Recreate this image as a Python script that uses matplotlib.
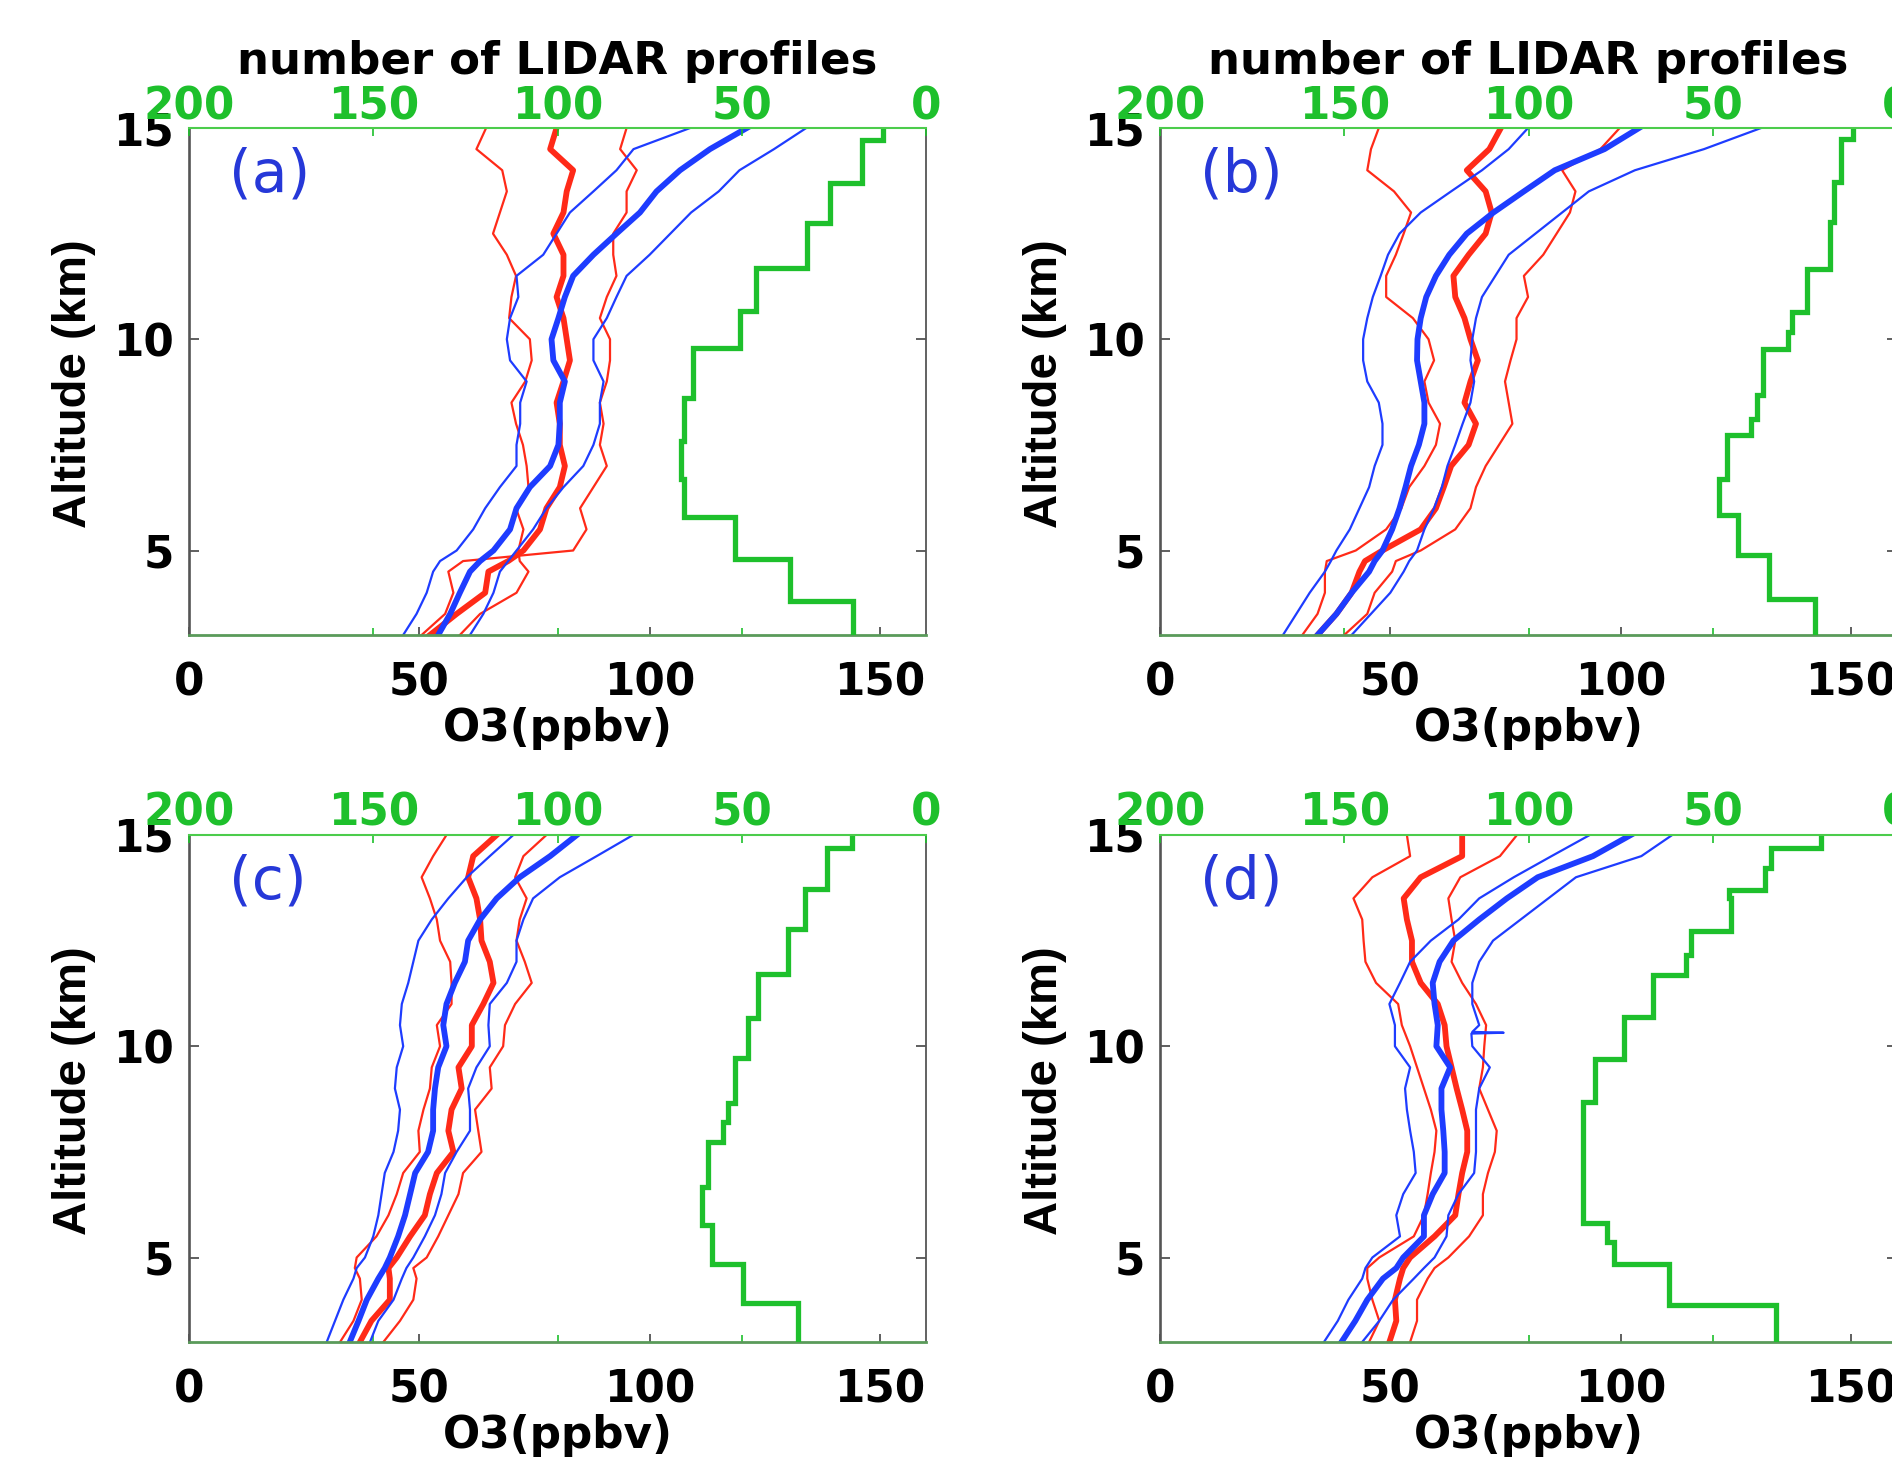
import numpy as np
import matplotlib
matplotlib.use('Agg')
import matplotlib.pyplot as plt

plt.rcParams['font.family'] = ['DejaVu Sans']
plt.rcParams['font.weight'] = 'bold'

############################################
# data
# altitude grid (km) the O3 profiles were read at, top to bottom
ALT = [15, 14.5, 14, 13.5, 13, 12.5, 12, 11.5, 11, 10.5, 10, 9.5, 9,
       8.5, 8, 7.5, 7, 6.5, 6, 5.5, 5, 4.75, 4.5, 4, 3.5, 3]

# (a)
a_red_lo = [64.5, 62.4, 68, 69, 67.5, 66, 69, 71, 70, 69.5, 74, 74.4, 73,
            70, 71, 72.5, 73.3, 73.7, 71, 72.6, 71.5, 71.8, 73.7, 71.1, 63.2, 58.8]
a_red_mid = [79.8, 78.4, 83.4, 82, 81.3, 79.1, 81.3, 81.3, 79.8, 81.3, 82, 82.7, 81.3,
             79.8, 80.5, 80.5, 81.6, 80.5, 77.6, 76.2, 72.6, 69.3, 65, 64.3, 58.1, 52.3]
a_red_hi = [95, 93.6, 97.2, 95, 95, 92.1, 92.1, 92.8, 90.7, 89.2, 91.4, 91.4, 90.7,
            89.2, 90, 89.2, 90.7, 87.8, 84.9, 86.3, 83.4, 59.5, 56.3, 57.4, 55.6, 50.5]
a_blue_lo = [108.8, 96.5, 92.8, 87.8, 82.7, 79.8, 76.9, 71.1, 71.5, 69.7, 69, 69.7, 73.3,
             71.9, 71.9, 71.1, 71.1, 67.5, 64.3, 61.7, 58.1, 54.5, 53, 51.6, 49.4, 46.5]
a_blue_mid = [121.1, 113.1, 106.6, 101.5, 97.9, 92.8, 87.8, 83.4, 81.6, 80.2, 78.7, 79.1, 81.6,
              80.5, 80.5, 80.2, 78.4, 74, 71.1, 69.7, 66.1, 63.2, 61, 58.8, 56.7, 54.1]
a_blue_hi = [134, 127, 119.5, 115, 109, 104.5, 100, 95, 92.8, 90.7, 87.8, 87.8, 90,
             89.2, 89.2, 87.8, 85.6, 81.3, 77.6, 74.7, 71.1, 69.3, 67.5, 66.1, 63.9, 61]
a_green_edges = [3, 3.8, 4.8, 5.8, 6.7, 7.6, 8.6, 9.8, 10.66, 11.68, 12.75, 13.7, 14.72, 15]
a_green_n = [19.7, 37, 51.8, 65.7, 66.6, 65.7, 63.3, 50.5, 46, 32.4, 26.1, 17.5, 11.6]

# (b)
b_red_lo = [47.5, 45.8, 45, 50.8, 54.5, 52.9, 51.2, 49.1, 49.1, 54.9, 58.3, 59.5, 57.4,
            58.3, 60.8, 59.9, 57.4, 54.1, 52.4, 49.1, 42.5, 36.2, 35.8, 35.8, 34.2, 30.9]
b_red_mid = [74, 71.5, 66.6, 70.7, 72, 70.7, 67, 63.7, 64.1, 66.1, 67.4, 69, 67.4,
             66.1, 68.6, 67, 63.2, 61.6, 59.9, 56.6, 48.3, 44.5, 43.3, 41.6, 38.3, 34.2]
b_red_hi = [99.8, 95.6, 87.3, 90.2, 89, 86.1, 83.2, 79, 79.9, 77.4, 77.4, 76.1, 74.9,
            75.7, 76.5, 73.6, 70.7, 68.6, 67.4, 64.1, 56.6, 51.2, 50.4, 46.6, 45, 40]
b_blue_lo = [79.9, 75.7, 69.9, 63.2, 56.6, 52, 49.5, 47.9, 46.2, 45, 44.1, 44.1, 45,
             47.5, 48.3, 48.3, 46.6, 45.4, 43.3, 41.2, 38.3, 37.1, 35.8, 32.5, 29.6, 26.7]
b_blue_mid = [104, 96.5, 85.7, 79, 72.4, 66.6, 62.8, 59.9, 57.8, 56.6, 55.9, 55.8, 56.6,
              57.4, 57.4, 56.2, 54.5, 53.3, 52, 50.4, 48.3, 46.6, 45.4, 41.6, 38.3, 34.2]
b_blue_hi = [130.5, 118.1, 103.1, 93.1, 87.3, 81.5, 75.7, 72.8, 69.9, 68.6, 67.8, 67.4, 68.2,
             67.4, 65.7, 64.1, 62.4, 61.2, 59.5, 57.4, 55.8, 54.1, 52.9, 50, 45.8, 41.6]
b_green_edges = [3, 3.86, 4.9, 5.84, 6.7, 7.73, 8.12, 8.68, 9.78, 10.17, 10.65, 11.67,
                 12.78, 13.72, 14.75, 15]
b_green_n = [22.3, 34.8, 43.1, 48.3, 46.2, 39.5, 37.9, 36.4, 29.6, 28.5, 24.4, 18.1,
             17.1, 15.1, 12]

# (c)
c_red_lo = [55.9, 53, 50.5, 52.3, 53.8, 54.5, 56.7, 57, 57, 53.8, 54.5, 52.7, 52.3,
            50.9, 49.8, 50.1, 46.5, 45.1, 43.3, 40.7, 36.4, 36, 37.1, 37.5, 35.7, 32.8]
c_red_mid = [66.8, 61.7, 60.6, 62.4, 63.2, 63.5, 65.3, 66.1, 63.9, 61.4, 61.4, 58.5, 59.2,
             57, 56.3, 57.4, 53.8, 52.3, 51.2, 48, 45.1, 43.3, 43.6, 43.6, 39.6, 37.1]
c_red_hi = [77.6, 72.6, 70.8, 73.3, 71.8, 71.1, 72.9, 74.4, 70.8, 68.6, 68.2, 65.3, 65.7,
            62.1, 62.8, 63.5, 59.5, 58.5, 56.3, 54.1, 51.6, 48.7, 49.4, 48.7, 45.8, 42.2]
c_blue_lo = [70.4, 65.3, 60.3, 56.3, 52.7, 49.8, 48.7, 47.6, 46.2, 45.8, 46.5, 45.1, 44.7,
             45.8, 45.4, 44.4, 42.5, 41.8, 41.1, 40, 38.2, 36.4, 35.7, 33.5, 31.7, 29.9]
c_blue_mid = [84.2, 78.4, 71.8, 66.8, 63.2, 60.6, 59.9, 57.7, 55.9, 55.2, 55.9, 54.1, 53.4,
              53, 53, 51.9, 49.1, 48, 46.9, 45.4, 43.6, 42.5, 41.1, 38.6, 36.8, 34.9]
c_blue_hi = [96.4, 88.5, 80.5, 74.7, 72.6, 71.1, 71.1, 69, 65.3, 65, 65.3, 62.4, 60.6,
             61, 61, 58.1, 55.6, 54.8, 53.4, 51.2, 48.7, 47.2, 46.2, 44.4, 41.1, 39.3]
c_green_edges = [3, 3.93, 4.85, 5.78, 6.67, 7.74, 8.21, 8.66, 9.73, 10.67, 11.71, 12.77,
                 13.72, 14.7, 15]
c_green_n = [34.6, 49.6, 58.1, 60.9, 59.1, 55, 53.6, 51.9, 48.2, 45.5, 37.4, 32.9,
             27, 20.2]

# (d)
d_red_lo = [53.6, 54.3, 46.1, 42, 43.9, 44.2, 44.6, 46.9, 51.7, 52.5, 54.3, 55.8, 57.3,
            58.8, 60, 59.6, 58.8, 58.1, 57.3, 55.1, 47.6, 45, 45, 46.1, 47.6, 45.4]
d_red_mid = [65.6, 65.6, 56.6, 52.9, 53.6, 54.7, 54.7, 56.6, 60.3, 61.8, 62.2, 63.3, 64.4,
             65.6, 66.7, 66.7, 65.6, 64.8, 64.1, 59.6, 54.3, 52.8, 52.1, 51, 51.3, 49.8]
d_red_hi = [77.5, 73.8, 65.2, 62.6, 63.3, 64.1, 63.3, 65.6, 68.6, 70.8, 70.4, 70.1, 69.3,
            71.2, 73.1, 72.7, 71.2, 70.1, 70.1, 67.1, 62.6, 59.6, 58.1, 55.8, 55.8, 54.3]
d_blue_lo = [93.3, 85, 76.8, 69.3, 64.8, 58.8, 54.3, 52.1, 49.8, 51, 51, 54.3, 53.2,
             53.6, 54.3, 55.1, 55.5, 52.8, 51.3, 52.1, 46.1, 44.6, 43.9, 40.9, 38.6, 35.6]
d_blue_mid = [102.2, 94, 82, 75.3, 69.3, 63.7, 60.7, 59.2, 59.6, 60.3, 60, 63, 61.1,
              61.1, 61.5, 61.8, 61.8, 59.2, 57.3, 57.3, 52.8, 51.3, 48.4, 45, 42.4, 39.4]
# this one has a spike near 10.3 km, so it has its own altitudes
d_blue_hi_alt = [15, 14.5, 14, 13.5, 13, 12.5, 12, 11.5, 11, 10.5, 10.34, 10.32, 10.30,
                 10, 9.5, 9, 8.5, 8, 7.5, 7, 6.5, 6, 5.5, 5, 4.75, 4.5, 4, 3.5, 3]
d_blue_hi = [111.2, 104.5, 90.3, 84.3, 78.3, 72.3, 69.3, 67.8, 67.8, 69.3, 67.8, 74.6, 67.6,
             67.8, 71.6, 69.3, 68.6, 68.6, 68.6, 68.2, 64.8, 62.6, 62.2, 59.6, 57.3, 55.1,
             50.6, 47.6, 43.9]
d_green_edges = [3, 3.87, 4.85, 5.36, 5.82, 8.69, 9.71, 10.69, 11.68, 12.17, 12.72, 13.51,
                 13.69, 14.22, 14.7, 15]
d_green_n = [32.9, 61.9, 76.9, 78.7, 85.3, 82, 74.1, 66.1, 57.3, 55.8, 45.1, 45.5,
             35.7, 34.3, 20.7]

O3_TICKS = [0, 50, 100, 150]
ALT_TICKS = [5, 10, 15]
N_TICKS = [200, 150, 100, 50, 0]

RED = '#ff2a18'
BLUE = '#1e3cff'
GREEN = '#1ec02c'
TAG_BLUE = '#2638d8'

#############################################
## Plotting
fig = plt.figure(figsize=(18.92, 14.61), dpi=100)
AXW, AXH = 737 / 1892, 507 / 1461


def draw_panel(x0, y0, tag, reds, blues, g_edges, g_n, title):
    ax = fig.add_axes([x0, y0, AXW, AXH])
    # thin, thick, thin
    for (alt, vals), lw in zip(reds, (1.6, 4.2, 1.6)):
        ax.plot(vals, alt, color=RED, lw=lw)
    for (alt, vals), lw in zip(blues, (1.6, 4.2, 1.6)):
        ax.plot(vals, alt, color=BLUE, lw=lw)

    ax.set_xlim(0, 160)
    ax.set_ylim(3, 15)
    ax.set_xticks(O3_TICKS)
    ax.set_xticks([40, 80, 120], minor=True)
    ax.set_yticks(ALT_TICKS)
    ax.tick_params(axis='x', which='major', direction='in', length=6, width=1.2,
                   color='#444444', labelsize=31.5, pad=19, top=False)
    ax.tick_params(axis='x', which='minor', direction='in', length=5, width=1.2,
                   color=GREEN, top=False)
    ax.tick_params(axis='y', direction='in', length=7, width=1.2, color='#444444',
                   labelsize=31.5, pad=11, left=True, right=True)
    ax.spines['top'].set_visible(False)
    ax.spines['bottom'].set_color('#5a9a5a')
    ax.spines['bottom'].set_linewidth(2.0)
    ax.spines['left'].set_color('#555555')
    ax.spines['left'].set_linewidth(1.9)
    ax.spines['right'].set_color('#555555')
    ax.spines['right'].set_linewidth(1.3)

    ax.text(-0.156, 0.495, 'Altitude (km)', transform=ax.transAxes, rotation=90,
            ha='center', va='center', fontsize=34, family='Liberation Sans')
    ax.text(0.5, -0.185, 'O3(ppbv)', transform=ax.transAxes,
            ha='center', va='center', fontsize=31.5)
    ax.text(0.054, 0.907, tag, transform=ax.transAxes, ha='left', va='center',
            fontsize=42, fontweight='normal', color=TAG_BLUE)

    # number of profiles on the reversed top axis
    ax2 = ax.twiny()
    ax2.set_xlim(200, 0)
    xs, ys = [], []
    for i, n in enumerate(g_n):
        xs += [n, n]
        ys += [g_edges[i], g_edges[i + 1]]
    ax2.plot(xs, ys, color=GREEN, lw=3.8, solid_joinstyle='miter')
    ax2.set_xticks(N_TICKS)
    ax2.tick_params(axis='x', direction='in', length=6, width=1.2, color=GREEN,
                    labelcolor=GREEN, labelsize=31.5, pad=0)
    for s in ('bottom', 'left', 'right'):
        ax2.spines[s].set_visible(False)
    ax2.spines['top'].set_color('#4ccc4c')
    ax2.spines['top'].set_linewidth(1.5)
    ax.set_ylim(3, 15)
    if title:
        ax.text(0.5, 1.132, 'number of LIDAR profiles', transform=ax.transAxes,
                ha='center', va='center', fontsize=32.5)
    return ax


def trio(lo, mid, hi):
    return [(ALT, lo), (ALT, mid), (ALT, hi)]


draw_panel(189 / 1892, 1 - 635 / 1461, '(a)',
           trio(a_red_lo, a_red_mid, a_red_hi), trio(a_blue_lo, a_blue_mid, a_blue_hi),
           a_green_edges, a_green_n, True)
draw_panel(1160 / 1892, 1 - 635 / 1461, '(b)',
           trio(b_red_lo, b_red_mid, b_red_hi), trio(b_blue_lo, b_blue_mid, b_blue_hi),
           b_green_edges, b_green_n, True)
draw_panel(189 / 1892, 1 - 1342 / 1461, '(c)',
           trio(c_red_lo, c_red_mid, c_red_hi), trio(c_blue_lo, c_blue_mid, c_blue_hi),
           c_green_edges, c_green_n, False)
draw_panel(1160 / 1892, 1 - 1342 / 1461, '(d)',
           trio(d_red_lo, d_red_mid, d_red_hi),
           [(ALT, d_blue_lo), (ALT, d_blue_mid), (d_blue_hi_alt, d_blue_hi)],
           d_green_edges, d_green_n, False)

fig.savefig('out.png', dpi=100)
